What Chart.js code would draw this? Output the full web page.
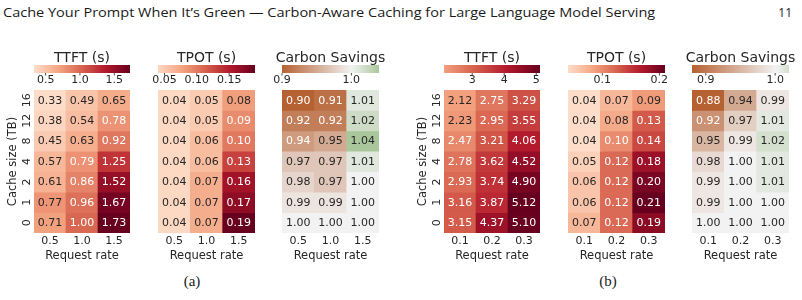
<!DOCTYPE html>
<html>
<head>
<meta charset="utf-8">
<script src="https://cdn.jsdelivr.net/npm/chart.js@4.4.1/dist/chart.umd.min.js"></script>
<style>
  html, body { margin: 0; padding: 0; background: #fff; }
  #page { position: relative; width: 802px; height: 300px; overflow: hidden; }
  #page canvas { position: absolute; left: 0; top: 0; }
  #hdr { position: absolute; left: 3px; top: 4px; font-family: 'Open Sans', sans-serif; font-size: 12px;
         color: #1a1a1a; white-space: nowrap; transform-origin: 0 0; }
  #pnum { position: absolute; right: 10px; top: 4px; font-family: 'Open Sans', sans-serif; font-size: 12px; color: #1a1a1a; }
  .cap { position: absolute; top: 273px; font-family: 'Liberation Serif', 'DejaVu Serif', serif; font-size: 15px;
         color: #1a1a1a; transform: translateX(-50%); }
</style>
</head>
<body>
<div id="page">
  <div id="hdr">Cache Your Prompt When It’s Green — Carbon-Aware Caching for Large Language Model Serving</div>
  <div id="pnum">11</div>
  <div class="cap" style="left:192px">(a)</div>
  <div class="cap" style="left:608px">(b)</div>
</div>
<script>
// rows top to bottom, columns = request rates
const cacheSizes = ['16', '12', '8', '4', '2', '1', '0'];
const ratesA = ['0.5', '1.0', '1.5'];
const ratesB = ['0.1', '0.2', '0.3'];

const ttftA = [
  [0.33, 0.49, 0.65], [0.38, 0.54, 0.78], [0.45, 0.63, 0.92], [0.57, 0.79, 1.25],
  [0.61, 0.86, 1.52], [0.77, 0.96, 1.67], [0.71, 1.00, 1.73]
];
const tpotA = [
  [0.04, 0.05, 0.08], [0.04, 0.05, 0.09], [0.04, 0.06, 0.10], [0.04, 0.06, 0.13],
  [0.04, 0.07, 0.16], [0.04, 0.07, 0.17], [0.04, 0.07, 0.19]
];
const carbonA = [
  [0.90, 0.91, 1.01], [0.92, 0.92, 1.02], [0.94, 0.95, 1.04], [0.97, 0.97, 1.01],
  [0.98, 0.97, 1.00], [0.99, 0.99, 1.00], [1.00, 1.00, 1.00]
];
const ttftB = [
  [2.12, 2.75, 3.29], [2.23, 2.95, 3.55], [2.47, 3.21, 4.06], [2.78, 3.62, 4.52],
  [2.93, 3.74, 4.90], [3.16, 3.87, 5.12], [3.15, 4.37, 5.10]
];
const tpotB = [
  [0.04, 0.07, 0.09], [0.04, 0.08, 0.13], [0.04, 0.10, 0.14], [0.05, 0.12, 0.18],
  [0.06, 0.12, 0.20], [0.06, 0.12, 0.21], [0.07, 0.12, 0.19]
];
const carbonB = [
  [0.88, 0.94, 0.99], [0.92, 0.97, 1.01], [0.95, 0.99, 1.02], [0.98, 1.00, 1.01],
  [0.99, 1.00, 1.01], [0.99, 1.00, 1.00], [1.00, 1.00, 1.00]
];

// colorbar ticks
const cbTtftA = [0.5, 1.0, 1.5];     const cbTtftALabels = ['0.5', '1.0', '1.5'];
const cbTpotA = [0.05, 0.10, 0.15];  const cbTpotALabels = ['0.05', '0.10', '0.15'];
const cbCarbonA = [0.9, 1.0];        const cbCarbonALabels = ['0.9', '1.0'];
const cbTtftB = [3, 4, 5];           const cbTtftBLabels = ['3', '4', '5'];
const cbTpotB = [0.1, 0.2];          const cbTpotBLabels = ['0.1', '0.2'];
const cbCarbonB = [0.9, 1.0];        const cbCarbonBLabels = ['0.9', '1.0'];

// colormaps
const rdbuR = [[5,48,97],[33,102,172],[67,147,195],[146,197,222],[209,229,240],[247,247,247],
               [253,219,199],[244,165,130],[214,96,77],[178,24,43],[103,0,31]];
const brownGreen = [[182,97,50],[242,242,242],[62,134,25]];

const FONT = 'DejaVu Sans';
const TXT = '#262626';

function lerpStops(stops, t) {
  t = Math.min(1, Math.max(0, t));
  const n = stops.length - 1;
  const f = t * n;
  const i = Math.min(n - 1, Math.floor(f));
  const u = f - i;
  return stops[i].map((c, k) => c + (stops[i + 1][k] - c) * u);
}
function colorFn(kind, vmin, vmax) {
  if (kind === 'heat') {
    const vr = Math.max(vmax, -vmin);
    return v => lerpStops(rdbuR, (v + vr) / (2 * vr));
  }
  const c = 1.0, vr = Math.max(vmax - c, c - vmin);
  return v => lerpStops(brownGreen, (v - c + vr) / (2 * vr));
}
const css = c => `rgb(${c.map(Math.round).join(',')})`;
function lum(c) {
  const l = c.map(x => { x /= 255; return x <= 0.03928 ? x / 12.92 : Math.pow((x + 0.055) / 1.055, 2.4); });
  return 0.2126 * l[0] + 0.7152 * l[1] + 0.0722 * l[2];
}

const Y0 = 90, Y1 = 233, HX = 30, HC = 25;

function makePanel(p) {
  const cv = document.createElement('canvas');
  cv.width = 802; cv.height = 300;
  document.getElementById('page').appendChild(cv);

  const flat = p.values.flat();
  const vmin = Math.min(...flat), vmax = Math.max(...flat);
  const color = colorFn(p.kind, vmin, vmax);

  const datasets = cacheSizes.map((size, r) => ({
    label: size,
    data: p.values[r].map(() => [cacheSizes.length - 1 - r, cacheSizes.length - r]),
    backgroundColor: p.values[r].map(v => css(color(v))),
    borderWidth: 0,
    grouped: false,
    barPercentage: 1,
    categoryPercentage: 1,
    xAxisID: 'x',
    yAxisID: 'y'
  }));

  const padLeft = p.yAxis ? p.yTitleX - 7 : p.x0;

  const heatPlugin = {
    id: 'heat',
    afterDatasetsDraw(chart) {
      const ctx = chart.ctx;
      ctx.save();
      ctx.font = `11px "${FONT}"`;
      ctx.textAlign = 'center';
      ctx.textBaseline = 'middle';
      chart.data.datasets.forEach((ds, r) => {
        chart.getDatasetMeta(r).data.forEach((el, c) => {
          const v = p.values[r][c];
          ctx.fillStyle = lum(color(v)) > 0.408 ? TXT : '#ffffff';
          ctx.fillText(v.toFixed(2), el.x, (el.y + el.base) / 2 + 0.5);
        });
      });
      ctx.restore();
    },
    afterDraw(chart) {
      const ctx = chart.ctx;
      const cb = chart.scales.cb;
      const top = chart.chartArea.top - HC, h = 8;
      const g = ctx.createLinearGradient(cb.left, 0, cb.right, 0);
      for (let s = 0; s <= 60; s++) {
        g.addColorStop(s / 60, css(color(vmin + (vmax - vmin) * s / 60)));
      }
      ctx.save();
      ctx.fillStyle = g;
      ctx.fillRect(cb.left, top, cb.right - cb.left, h);
      ctx.fillStyle = TXT;
      cb.ticks.forEach(t => {
        const x = cb.getPixelForValue(t.value);
        ctx.fillRect(x - 0.4, top + h, 0.8, 2.5);
      });
      ctx.font = `14px "${FONT}"`;
      ctx.textAlign = 'center';
      ctx.textBaseline = 'middle';
      ctx.fillText(p.title, (chart.chartArea.left + chart.chartArea.right) / 2, 58);
      ctx.restore();
    }
  };

  const noGrid = { display: false, drawTicks: false, tickLength: 0 };

  new Chart(cv, {
    type: 'bar',
    data: { labels: p.rates, datasets },
    options: {
      responsive: false,
      animation: false,
      devicePixelRatio: 1,
      events: [],
      layout: { padding: { left: padLeft, right: 802 - p.x1, top: Y0 - HC, bottom: 300 - Y1 - HX } },
      plugins: { legend: { display: false }, tooltip: { enabled: false } },
      scales: {
        x: {
          type: 'category', position: 'bottom', offset: true,
          grid: noGrid, border: { display: false },
          ticks: { padding: 2, color: TXT, font: { family: FONT, size: 11 }, maxRotation: 0, autoSkip: false },
          title: { display: true, text: 'Request rate', color: TXT, font: { family: FONT, size: 11.5 }, padding: 0 },
          afterFit(s) { s.height = HX; s.paddingLeft = 0; s.paddingRight = 0; }
        },
        y: { type: 'linear', display: false, min: 0, max: cacheSizes.length },
        yc: {
          type: 'category', axis: 'y', position: 'left', labels: cacheSizes, offset: true,
          display: p.yAxis,
          grid: noGrid, border: { display: false },
          ticks: { padding: 0, color: TXT, font: { family: FONT, size: 11 }, minRotation: 90, maxRotation: 90,
                   crossAlign: 'center', autoSkip: false },
          title: { display: true, text: 'Cache size (TB)', color: TXT, font: { family: FONT, size: 11.5 }, padding: 0 },
          afterFit(s) { if (p.yAxis) s.width = p.x0 - padLeft; s.paddingTop = 0; s.paddingBottom = 0; }
        },
        cb: {
          type: 'linear', axis: 'x', position: 'top', min: vmin, max: vmax, offset: false, bounds: 'data',
          grid: noGrid, border: { display: false },
          afterBuildTicks(s) { s.ticks = p.cbTicks.map(v => ({ value: v })); },
          ticks: { padding: 3, color: TXT, font: { family: FONT, size: 11 }, maxRotation: 0, autoSkip: false,
                   callback: (v, i) => p.cbLabels[i] },
          afterFit(s) { s.height = HC; s.paddingLeft = 0; s.paddingRight = 0; }
        }
      }
    },
    plugins: [heatPlugin]
  });
}

const panels = [
  { x0: 34,  x1: 130, rates: ratesA, values: ttftA,   kind: 'heat',   title: 'TTFT (s)',       cbTicks: cbTtftA,   cbLabels: cbTtftALabels,   yAxis: true, yTitleX: 13 },
  { x0: 158, x1: 255, rates: ratesA, values: tpotA,   kind: 'heat',   title: 'TPOT (s)',       cbTicks: cbTpotA,   cbLabels: cbTpotALabels,   yAxis: false },
  { x0: 282, x1: 379, rates: ratesA, values: carbonA, kind: 'carbon', title: 'Carbon Savings', cbTicks: cbCarbonA, cbLabels: cbCarbonALabels, yAxis: false },
  { x0: 444, x1: 540, rates: ratesB, values: ttftB,   kind: 'heat',   title: 'TTFT (s)',       cbTicks: cbTtftB,   cbLabels: cbTtftBLabels,   yAxis: true, yTitleX: 423 },
  { x0: 568, x1: 665, rates: ratesB, values: tpotB,   kind: 'heat',   title: 'TPOT (s)',       cbTicks: cbTpotB,   cbLabels: cbTpotBLabels,   yAxis: false },
  { x0: 692, x1: 789, rates: ratesB, values: carbonB, kind: 'carbon', title: 'Carbon Savings', cbTicks: cbCarbonB, cbLabels: cbCarbonBLabels, yAxis: false }
];
panels.forEach(makePanel);

const hdr = document.getElementById('hdr');
hdr.style.transform = `scaleX(${652 / hdr.scrollWidth})`;
</script>
</body>
</html>
